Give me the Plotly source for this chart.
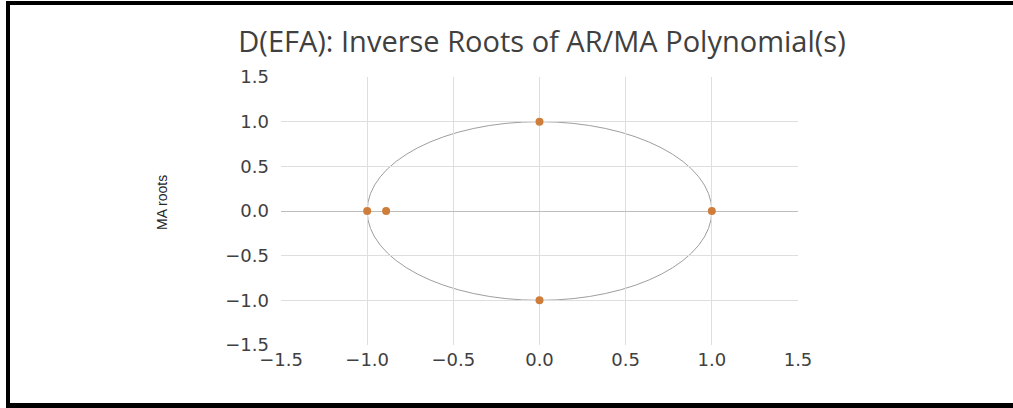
import plotly.graph_objects as go

# ---- data ----
root_x = [-1.0, -0.89, 0.0, 0.0, 1.0]
root_y = [0.0, 0.0, 1.0, -1.0, 0.0]
unit_radius = 1.0
tick_vals = [-1.5, -1.0, -0.5, 0.0, 0.5, 1.0, 1.5]
tick_text = ["\u22121.5", "\u22121.0", "\u22120.5", "0.0", "0.5", "1.0", "1.5"]
title_text = "D(EFA): Inverse Roots of AR/MA Polynomial(s)"
y_title = "MA roots"

# ---- layout geometry (px) ----
W, H = 1013, 408
L, R, T, B = 281, 215, 77, 63
PW, PH = W - L - R, H - T - B


def px_x(X):
    return (X - L) / PW


def px_y(Y):
    return (H - B - Y) / PH


fig = go.Figure()
fig.add_trace(go.Scatter(
    x=root_x, y=root_y, mode="markers",
    marker=dict(color="#CF7D3A", size=8, line=dict(width=0)),
    showlegend=False, hoverinfo="x+y",
))

shapes = [
    dict(type="circle", xref="x", yref="y",
         x0=-unit_radius, y0=-unit_radius, x1=unit_radius, y1=unit_radius,
         line=dict(color="#9e9e9e", width=1), layer="below"),
]
# outer black frame
frame = dict(type="rect", xref="paper", yref="paper", line=dict(width=0),
             fillcolor="black", layer="above")
shapes.append({**frame, "x0": px_x(6), "x1": px_x(10), "y0": px_y(410), "y1": px_y(1)})
shapes.append({**frame, "x0": px_x(6), "x1": px_x(1020), "y0": px_y(5), "y1": px_y(1)})
shapes.append({**frame, "x0": px_x(6), "x1": px_x(1020), "y0": px_y(410), "y1": px_y(403)})

tickfont = dict(family="DejaVu Sans", size=18, color="#404040")

fig.update_layout(
    width=W, height=H,
    margin=dict(l=L, r=R, t=T, b=B, autoexpand=False),
    paper_bgcolor="white", plot_bgcolor="white",
    title=dict(text=title_text, xref="container", x=542 / W, xanchor="center",
               yref="container", y=1 - 42 / H, yanchor="middle",
               font=dict(family="Open Sans", size=29, color="#404040")),
    shapes=shapes,
    annotations=[dict(text=y_title, xref="paper", yref="paper",
                      x=px_x(162), y=px_y(203), xanchor="center", yanchor="middle",
                      textangle=-90, showarrow=False,
                      font=dict(family="Liberation Sans", size=14, color="#262626"))],
    xaxis=dict(range=[-1.5, 1.5], tickvals=tick_vals, ticktext=tick_text,
               showgrid=True, gridcolor="#dedede", gridwidth=1,
               zeroline=False, showline=False, ticks="", ticklabelstandoff=2,
               tickfont=tickfont, fixedrange=True),
    yaxis=dict(range=[-1.5, 1.5], tickvals=tick_vals, ticktext=tick_text,
               showgrid=True, gridcolor="#dedede", gridwidth=1,
               zeroline=True, zerolinecolor="#bdbdbd", zerolinewidth=1,
               showline=False, ticks="", ticklabelstandoff=11,
               tickfont=tickfont, fixedrange=True),
)

fig.write_html("out.html")
